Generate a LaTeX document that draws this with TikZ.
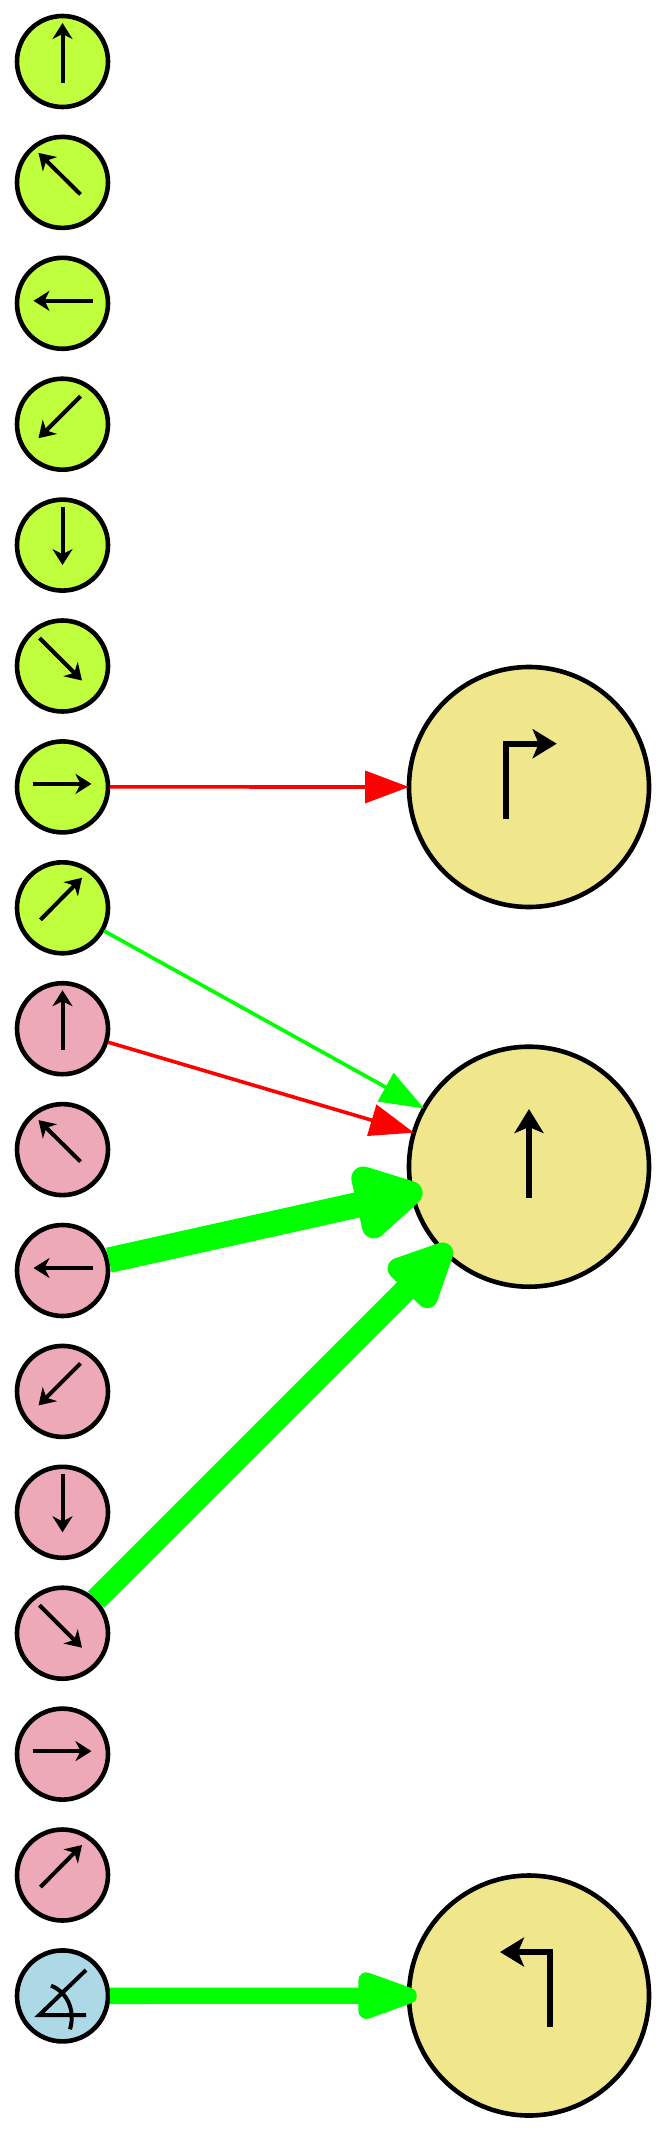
\documentclass[tikz,border=0pt]{standalone}
\usetikzlibrary{arrows.meta}
\definecolor{gvgreen}{HTML}{C0FF3E}
\definecolor{gvpink}{HTML}{EEA9B8}
\definecolor{gvblue}{HTML}{ADD8E6}
\definecolor{gvkhaki}{HTML}{F0E68C}
\definecolor{gvedgegreen}{HTML}{00FF00}
\definecolor{gvedgered}{HTML}{FF0000}
\pgfdeclarearrow{
  name=RoundHead,
  parameters={\the\pgfarrowlength,\the\pgfarrowwidth,\the\pgfarrowlinewidth},
  setup code={
    \pgfarrowssettipend{0pt}
    \pgfarrowssetlineend{-\pgfarrowlength}
    \pgfarrowssetvisualbackend{-\pgfarrowlength}
    \pgfarrowssetbackend{-\pgfarrowlength}
  },
  drawing code={
    \pgfsetroundjoin
    \pgfsetlinewidth{\pgfarrowlinewidth}
    \pgfpathmoveto{\pgfpoint{-.5\pgfarrowlinewidth}{0pt}}
    \pgfpathlineto{\pgfpoint{-.5\pgfarrowlinewidth-\pgfarrowlength}{.5\pgfarrowwidth}}
    \pgfpathlineto{\pgfpoint{-.5\pgfarrowlinewidth-\pgfarrowlength}{-.5\pgfarrowwidth}}
    \pgfpathclose
    \pgfusepathqfillstroke
  },
  defaults={length=40pt,width=30pt}
}
\tikzset{
  smallnode/.style={circle,draw=black,line width=4.6pt,minimum size=91pt,inner sep=0pt,outer sep=0pt},
  bignode/.style={smallnode,fill=gvkhaki,minimum size=240pt},
  smallglyph/.style={line width=4pt,draw=black,-{Stealth[length=16pt,width=20pt,inset=5pt]}},
  bigglyph/.style={line width=6pt,draw=black,-{Stealth[length=24pt,width=29pt,inset=6pt]}},
  thinedge/.style={line width=3.6pt,shorten <=2pt,-{Triangle[length=44pt,width=32pt]}},
  thickedge/.style={shorten <=2pt}
}
\begin{document}
\begin{tikzpicture}[x=1pt,y=-1pt]
\useasboundingbox (0,0) rectangle (667,2133);
\fill[white] (0,0) rectangle (667,2133);
% small nodes: green g0..g7, pink p0..p7
\foreach \i in {0,...,7}{
  \pgfmathsetmacro{\cy}{61.5+120.9*\i}
  \node[smallnode,fill=gvgreen] (g\i) at (62.5,\cy) {};
  \pgfmathsetmacro{\py}{61.5+120.9*(\i+8)}
  \node[smallnode,fill=gvpink] (p\i) at (62.5,\py) {};
}
\node[smallnode,fill=gvblue] (angle) at (62.5,1995.9) {};
\node[bignode] (bigtop) at (529,787) {};
\node[bignode] (bigmid) at (529,1166.7) {};
\node[bignode] (bigbot) at (529,1995.5) {};
% direction glyphs
\foreach \n/\tx/\ty/\hx/\hy in {
  0/0/21/0/-38.5,
  1/18/12/-24/-29.5,
  2/30/-2.5/-29/-2.5,
  3/18/-28/-24/14,
  4/0/-38.5/0/20,
  5/-23/-28/19.5/14.5,
  6/-30/-3/29/-3,
  7/-22/12/19.5/-30}{
  \draw[smallglyph] ([shift={(\tx,\ty)}]g\n.center) -- ([shift={(\hx,\hy)}]g\n.center);
  \draw[smallglyph] ([shift={(\tx,\ty)}]p\n.center) -- ([shift={(\hx,\hy)}]p\n.center);
}
% angle glyph
\draw[line width=4pt,black] ([shift={(23.5,-25.9)}]angle.center) -- ([shift={(-23.2,19.1)}]angle.center) -- ([shift={(23.5,19.1)}]angle.center);
\draw[line width=4pt,black] ([shift={(-11.5,-10.2)}]angle.center) .. controls ([shift={(5,-4)}]angle.center) and ([shift={(13,15)}]angle.center) .. ([shift={(7.5,33.4)}]angle.center);
% big glyphs
\draw[bigglyph] ([shift={(-23,31.7)}]bigtop.center) -- ([shift={(-23,-43.3)}]bigtop.center) -- ([shift={(27.7,-43.3)}]bigtop.center);
\draw[bigglyph] ([shift={(0,31)}]bigmid.center) -- ([shift={(0,-57.7)}]bigmid.center);
\draw[bigglyph] ([shift={(21,31.2)}]bigbot.center) -- ([shift={(21,-43.5)}]bigbot.center) -- ([shift={(-29,-43.5)}]bigbot.center);
% edges
\draw[thinedge,draw=gvedgered,fill=gvedgered] (g6) -- (bigtop);
\draw[thinedge,draw=gvedgegreen,fill=gvedgegreen] (g7) -- (bigmid);
\draw[thinedge,draw=gvedgered,fill=gvedgered] (p0) -- (bigmid);
\draw[thickedge,draw=gvedgegreen,line width=25.5pt,shorten >=-10.7pt,-{RoundHead[length=43pt,width=49pt,line width=24pt]}] (p2) -- (bigmid);
\draw[thickedge,draw=gvedgegreen,line width=23pt,shorten >=-8.4pt,-{RoundHead[length=42pt,width=40.6pt,line width=21.5pt]}] (p5) -- (bigmid);
\draw[thickedge,draw=gvedgegreen,line width=16.3pt,shorten >=-7.7pt,-{RoundHead[length=42.3pt,width=30.6pt,line width=16pt]}] (angle) -- (bigbot);
\end{tikzpicture}
\end{document}
